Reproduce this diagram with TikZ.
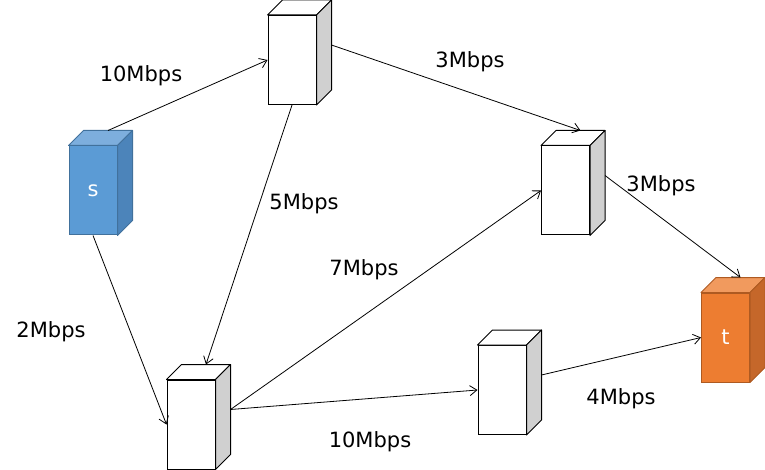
\documentclass[tikz,border=0pt]{standalone}
\usepackage{fontspec}
\setmainfont{DejaVu Sans}
\usetikzlibrary{arrows.meta, calc}

% Cores
\definecolor{srcFront}{HTML}{5B9BD5}
\definecolor{srcTop}{HTML}{7DAEDD}
\definecolor{srcSide}{HTML}{4C84BA}
\definecolor{srcEdge}{HTML}{41719C}
\definecolor{snkFront}{HTML}{ED7D31}
\definecolor{snkTop}{HTML}{F19A5E}
\definecolor{snkSide}{HTML}{C5672A}
\definecolor{snkEdge}{HTML}{AE5A21}
\definecolor{boxSide}{HTML}{D0D0D0}

\begin{document}
\begin{tikzpicture}[
    x=1pt, y=-1pt,
    font=\fontsize{21}{25}\selectfont,
    % Estilos
    server/.style={
        draw, rectangle, fill=white, inner sep=0pt,
        minimum width=48pt, minimum height=89pt, line width=1pt
    },
    source/.style={server, fill=srcFront, draw=srcEdge, text=white},
    sink/.style={server, fill=snkFront, draw=snkEdge, text=white},
    link/.style={-{Straight Barb[length=7pt,width=10pt]}, line width=0.8pt},
    rate/.style={anchor=base}
]
    \useasboundingbox (0,0) rectangle (765,470);

    % --- NÓS ---
    \node[source] (s) at (93,190.5) {s};
    \node[server] (a) at (292,60) {};
    \node[server] (b) at (565.5,190.5) {};
    \node[server] (c) at (191,424.5) {};
    \node[server] (d) at (502,390) {};
    \node[sink] (t) at (725.5,337.5) {t};

    % Faces de cima e laterais (efeito 3D)
    \foreach \n/\tc/\sc/\ec in {s/srcTop/srcSide/srcEdge, a/white/boxSide/black,
        b/white/boxSide/black, c/white/boxSide/black, d/white/boxSide/black,
        t/snkTop/snkSide/snkEdge} {
        \filldraw[fill=\tc, draw=\ec, line width=1pt, line join=round]
            (\n.north west) -- (\n.north east) -- ++(15,-15)
            -- ($(\n.north west)+(15,-15)$) -- cycle;
        \filldraw[fill=\sc, draw=\ec, line width=1pt, line join=round]
            (\n.north east) -- ++(15,-15) -- ($(\n.south east)+(15,-15)$)
            -- (\n.south east) -- cycle;
        \coordinate (\n-top) at ($(\n.north)+(15,-15)$);
        \coordinate (\n-back) at ($(\n.east)+(15,-15)$);
    }

    % --- CONEXÕES ---
    \draw[link] (s-top) -- (a.west);
    \draw[link] (a-back) -- (b-top);
    \draw[link] (a.south) -- (c-top);
    \draw[link] (s.south) -- (c.west);
    \draw[link] (c-back) -- (b.west);
    \draw[link] (c-back) -- (d.west);
    \draw[link] (b-back) -- (t-top);
    \draw[link] (d-back) -- (t.west);

    % Rótulos
    \node[rate] (r_sa) at (141,82) {10Mbps};
    \node[rate] (r_ab) at (470,68) {3Mbps};
    \node[rate] (r_ac) at (304,210) {5Mbps};
    \node[rate] (r_bt) at (661,192) {3Mbps};
    \node[rate] (r_cb) at (364,275) {7Mbps};
    \node[rate] (r_sc) at (51,337) {2Mbps};
    \node[rate] (r_dt) at (621,404) {4Mbps};
    \node[rate] (r_cd) at (370,447) {10Mbps};

\end{tikzpicture}
\end{document}
